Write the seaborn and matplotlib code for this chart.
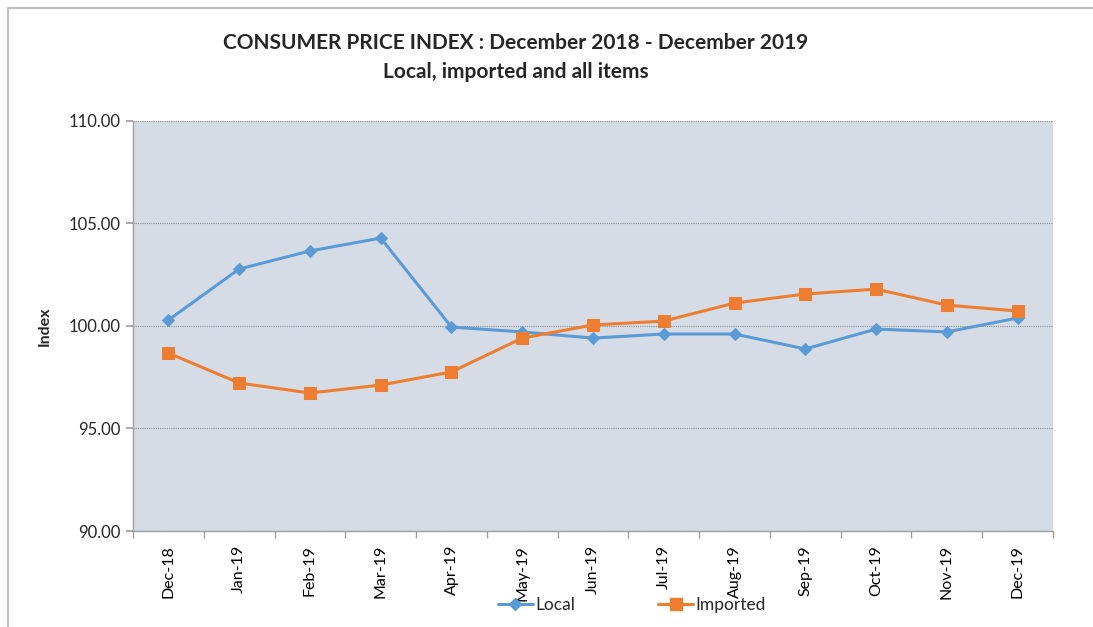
import numpy as np
import pandas as pd
import matplotlib
matplotlib.use("Agg")
import matplotlib.pyplot as plt
from matplotlib.lines import Line2D
from matplotlib.ticker import FixedLocator, MultipleLocator
import seaborn as sns

# Data
months = ['Dec-18', 'Jan-19', 'Feb-19', 'Mar-19', 'Apr-19', 'May-19', 'Jun-19',
          'Jul-19', 'Aug-19', 'Sep-19', 'Oct-19', 'Nov-19', 'Dec-19']
local = [100.29, 102.78, 103.66, 104.29, 99.95, 99.71, 99.41,
         99.61, 99.61, 98.88, 99.85, 99.71, 100.39]
imported = [98.68, 97.22, 96.73, 97.12, 97.76, 99.41, 100.05,
            100.24, 101.12, 101.56, 101.80, 101.02, 100.73]

blue = '#5B9BD5'
orange = '#ED7D31'

sns.set_theme(style="white")
plt.rcParams['font.family'] = ['Lato', 'DejaVu Sans']

df = pd.DataFrame({'month': months, 'Local': local, 'Imported': imported})
df['pos'] = np.arange(len(months))

fig = plt.figure(figsize=(10.93, 6.27), dpi=100)
ax = fig.add_axes([133 / 1093, 1 - 531 / 627, 920 / 1093, 410 / 627])
ax.set_facecolor('#D5DCE6')

sns.lineplot(data=df, x='pos', y='Local', ax=ax, color=blue, linewidth=2.2,
             marker='D', markersize=6, markeredgecolor=blue, label='Local')
sns.lineplot(data=df, x='pos', y='Imported', ax=ax, color=orange, linewidth=2.2,
             marker='s', markersize=8, markeredgecolor=orange, label='Imported')
ax.get_legend().remove()

# Axes ranges and ticks (Excel style: labels centred, tick marks between categories)
ax.set_xlim(-0.5, len(months) - 0.5)
ax.set_ylim(90, 110)
ax.yaxis.set_major_locator(MultipleLocator(5))
ax.set_yticklabels([f'{v:.2f}' for v in ax.get_yticks()])
ax.set_xticks(df['pos'])
ax.set_xticklabels(months, rotation=90)
ax.xaxis.set_minor_locator(FixedLocator(np.arange(-0.5, len(months), 1.0)))
ax.tick_params(axis='x', which='major', length=0, pad=10, labelsize=11.5, colors='black')
ax.tick_params(axis='x', which='minor', length=5, color='#A0A0A0', bottom=True)
ax.tick_params(axis='y', length=5, color='#A0A0A0', left=True, labelsize=12, pad=4)

ax.grid(axis='y', color='#8C8C8C', linestyle=(0, (1, 1)), linewidth=0.8)
ax.grid(axis='x', visible=False)
for side in ['top', 'right']:
    ax.spines[side].set_visible(False)
for side in ['left', 'bottom']:
    ax.spines[side].set_color('#A0A0A0')
    ax.spines[side].set_linewidth(1)

ax.set_xlabel('')
ax.set_ylabel('Index', fontsize=11.5, fontweight='bold', labelpad=12)

fig.text(516 / 1093, 1 - 43 / 627, 'CONSUMER PRICE INDEX : December 2018 - December 2019',
         ha='center', va='center', fontsize=15, fontweight='bold')
fig.text(516 / 1093, 1 - 72 / 627, 'Local, imported and all items',
         ha='center', va='center', fontsize=15, fontweight='bold')

handles = [Line2D([], [], color=blue, marker='D', markersize=6, linewidth=2.2),
           Line2D([], [], color=orange, marker='s', markersize=8, linewidth=2.2)]
fig.legend(handles, ['Local', 'Imported'], loc='center', ncol=2, frameon=False,
           bbox_to_anchor=(632 / 1093, 1 - 605 / 627), fontsize=12.5,
           handlelength=2.0, handletextpad=0.15, columnspacing=4.8)

# outer chart frame (top and left edges visible)
fig.add_artist(Line2D([8 / 1093, 1], [1 - 8 / 627, 1 - 8 / 627], color='#BFBFBF',
                      linewidth=1.5, transform=fig.transFigure))
fig.add_artist(Line2D([8 / 1093, 8 / 1093], [0, 1 - 8 / 627], color='#BFBFBF',
                      linewidth=1.5, transform=fig.transFigure))

fig.savefig('out.png', dpi=100)
